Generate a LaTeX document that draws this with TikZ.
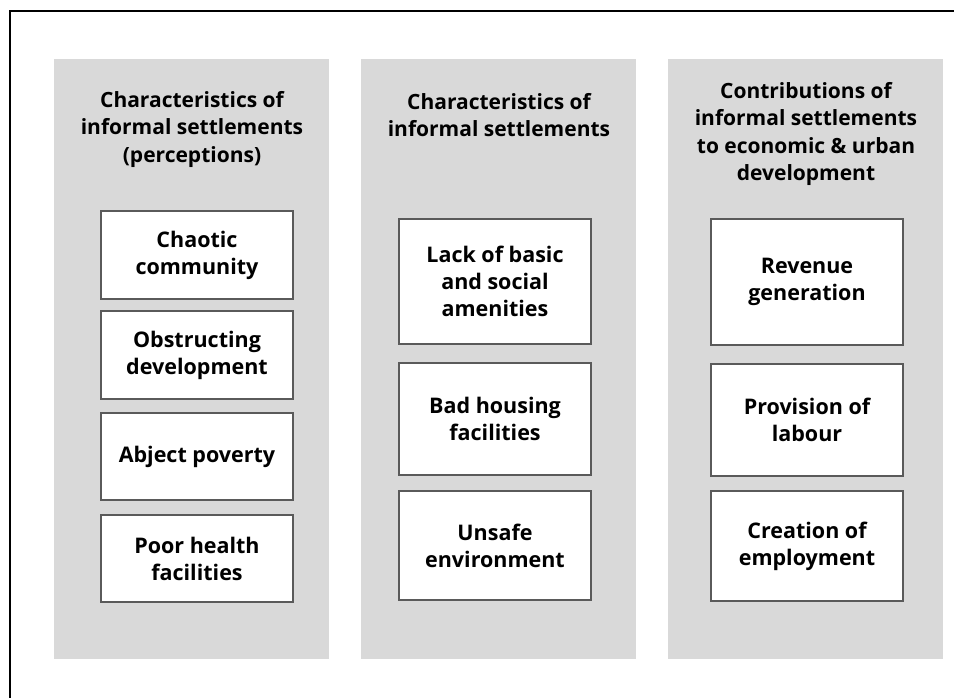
\documentclass[tikz,border=0pt]{standalone}
\usepackage{fontspec}
\setmainfont{Open Sans}
\usepackage{tikz}
\usetikzlibrary{positioning}

\definecolor{panelgray}{HTML}{D9D9D9}
\definecolor{boxline}{HTML}{5A5A5A}
\tikzset{
	panel/.style={fill=panelgray, draw=none, minimum width=275pt, minimum height=600pt, inner sep=0pt},
	item/.style={draw=boxline, line width=1.5pt, fill=white, minimum width=192pt, align=center, inner sep=0pt, font=\bfseries\fontsize{21.5}{27}\selectfont},
	head/.style={align=center, inner sep=0pt, font=\bfseries\fontsize{21}{27.5}\selectfont}
}

\begin{document}
\begin{tikzpicture}[x=1pt,y=-1pt]
\useasboundingbox (0,0) rectangle (954,697);
\draw[line width=1.5pt] (10,11) rectangle (975,715);

		\node[panel] (p1) at (191.5,359){};
		\node[panel] (p2) at (498.5,359){};
		\node[panel] (p3) at (805.5,359){};

		\node[head] (h1) at (192,129){Characteristics of\\informal settlements\\(perceptions)};
		\node[head] (h2) at (499,115){Characteristics of\\informal settlements};
		\node[head] (h3) at (806,134){Contributions of\\informal settlements\\to economic \& urban\\development};

		\node[item, minimum height=88pt] (chaotic) at (197,255){Chaotic\\community};
		\node[item, minimum height=88pt] (obstruct) at (197,355){Obstructing\\development};
		\node[item, minimum height=87pt] (poverty) at (197,456.5){Abject poverty};
		\node[item, minimum height=87pt] (health) at (197,558.5){Poor health\\facilities};

		\node[item, minimum height=125pt] (amenities) at (495,281.5){Lack of basic\\and social\\amenities};
		\node[item, minimum height=112pt] (housing) at (495,419){Bad housing\\facilities};
		\node[item, minimum height=109pt] (unsafe) at (495,545.5){Unsafe\\environment};

		\node[item, minimum height=126pt] (revenue) at (807,282){Revenue\\generation};
		\node[item, minimum height=112pt] (labour) at (807,420){Provision of\\labour};
		\node[item, minimum height=110pt] (employ) at (807,546){Creation of\\employment};
\end{tikzpicture}
\end{document}
